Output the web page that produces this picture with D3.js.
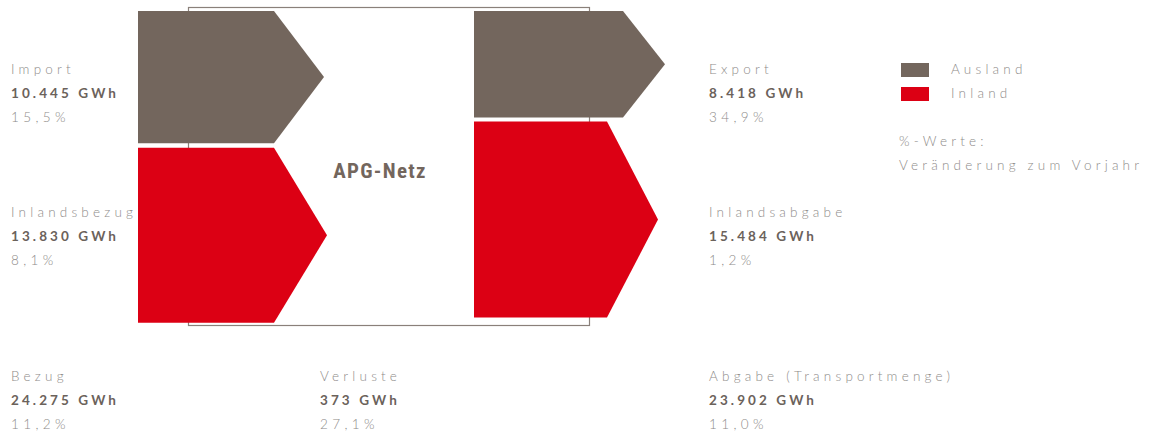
<!DOCTYPE html>
<html><head><meta charset="utf-8">
<script src="https://cdn.jsdelivr.net/npm/d3@7"></script>
<style>
html,body{margin:0;padding:0;background:#fff;}
svg{display:block;}
.lbl{font-family:Lato,"Open Sans",sans-serif;font-weight:300;font-size:13.5px;letter-spacing:4.2px;fill:#8e8b89;}
.val{font-family:Lato,"Open Sans",sans-serif;font-weight:700;font-size:13.5px;letter-spacing:3.1px;fill:#6b625b;}
.pct{font-family:Lato,"Open Sans",sans-serif;font-weight:300;font-size:13.5px;letter-spacing:4.4px;fill:#8e8b89;}
</style></head>
<body>
<svg id="c" width="1150" height="433"></svg>
<script>
// ---- data ----
const flowNames = ["Import", "Inlandsbezug", "Export", "Inlandsabgabe"];
const flowValues = [10445, 13830, 8418, 15484];
const flowPct = ["15,5%", "8,1%", "34,9%", "1,2%"];
const flowType = ["Ausland", "Inland", "Ausland", "Inland"];
const flowSide = ["in", "in", "out", "out"];
const totalNames = ["Bezug", "Verluste", "Abgabe (Transportmenge)"];
const totalValues = [24275, 373, 23902];
const totalPct = ["11,2%", "27,1%", "11,0%"];
const legendLabels = ["Ausland", "Inland"];
const centerLabel = "APG-Netz";
const noteLines = ["%-Werte:", "Veränderung zum Vorjahr"];

// ---- styles / layout ----
const colors = d3.scaleOrdinal().domain(legendLabels).range(["#73665d", "#dc0014"]);
const de = d3.formatLocale({decimal: ",", thousands: ".", grouping: [3], currency: ["", " €"]});
const fmt = de.format(",d");
const svg = d3.select("#c");

const thick = d3.scaleLinear().domain([0, 15484]).range([0, 196]);
const sideLayout = {
  in:  {x0: 138, x1: [274, 274], top: 11, gap: 4.5, tips: [50, 53], labelX: 11},
  out: {x0: 474, x1: [623, 607], top: 11, gap: 4, tips: [42, 51], labelX: 709}
};

// box
svg.append("rect").attr("x", 188.5).attr("y", 7.5).attr("width", 401).attr("height", 318)
  .attr("fill", "none").attr("stroke", "#8a807a").attr("stroke-width", 1.2);

// arrows
const labelY = [69, 212];
["in", "out"].forEach(side => {
  const L = sideLayout[side];
  let y = L.top;
  const idx = flowNames.map((n, i) => i).filter(i => flowSide[i] === side);
  idx.forEach((i, k) => {
    const h = thick(flowValues[i]);
    const x1 = L.x1[k];
    const tip = L.tips[k];
    const pts = [[L.x0, y], [x1, y], [x1 + tip, y + h / 2], [x1, y + h], [L.x0, y + h]];
    svg.append("path").attr("d", d3.line()(pts) + "Z").attr("fill", colors(flowType[i]));
    y += h + L.gap;
    // labels
    const g = svg.append("g").attr("transform", `translate(${L.labelX},${labelY[k]})`);
    g.append("text").attr("class", "lbl").attr("y", 5).text(flowNames[i]);
    g.append("text").attr("class", "val").attr("y", 28.5).text(fmt(flowValues[i]) + " GWh");
    g.append("text").attr("class", "pct").attr("y", 52.5).text(flowPct[i]);
  });
});

// center label
svg.append("text").attr("x", 380).attr("y", 177.5).attr("text-anchor", "middle")
  .style("font-family", "'Liberation Sans Narrow','Roboto Condensed','Liberation Sans',sans-serif")
  .style("font-weight", "700").style("font-size", "21px").style("letter-spacing", "1.3px")
  .style("fill", "#73665d")
  .text(centerLabel);

// totals
const totalX = [11, 320, 709];
totalNames.forEach((n, i) => {
  const g = svg.append("g").attr("transform", `translate(${totalX[i]},376)`);
  g.append("text").attr("class", "lbl").attr("y", 5).text(n);
  g.append("text").attr("class", "val").attr("y", 28.5).text(fmt(totalValues[i]) + " GWh");
  g.append("text").attr("class", "pct").attr("y", 52.5).text(totalPct[i]);
});

// legend
legendLabels.forEach((l, i) => {
  const y = 63 + i * 24;
  svg.append("rect").attr("x", 901).attr("y", y).attr("width", 28).attr("height", 14).attr("fill", colors(l));
  svg.append("text").attr("class", "lbl").attr("x", 951).attr("y", y + 11).text(l);
});
noteLines.forEach((t, i) => {
  svg.append("text").attr("class", "lbl").attr("x", 899).attr("y", 146 + i * 24).text(t);
});
</script>
</body></html>
